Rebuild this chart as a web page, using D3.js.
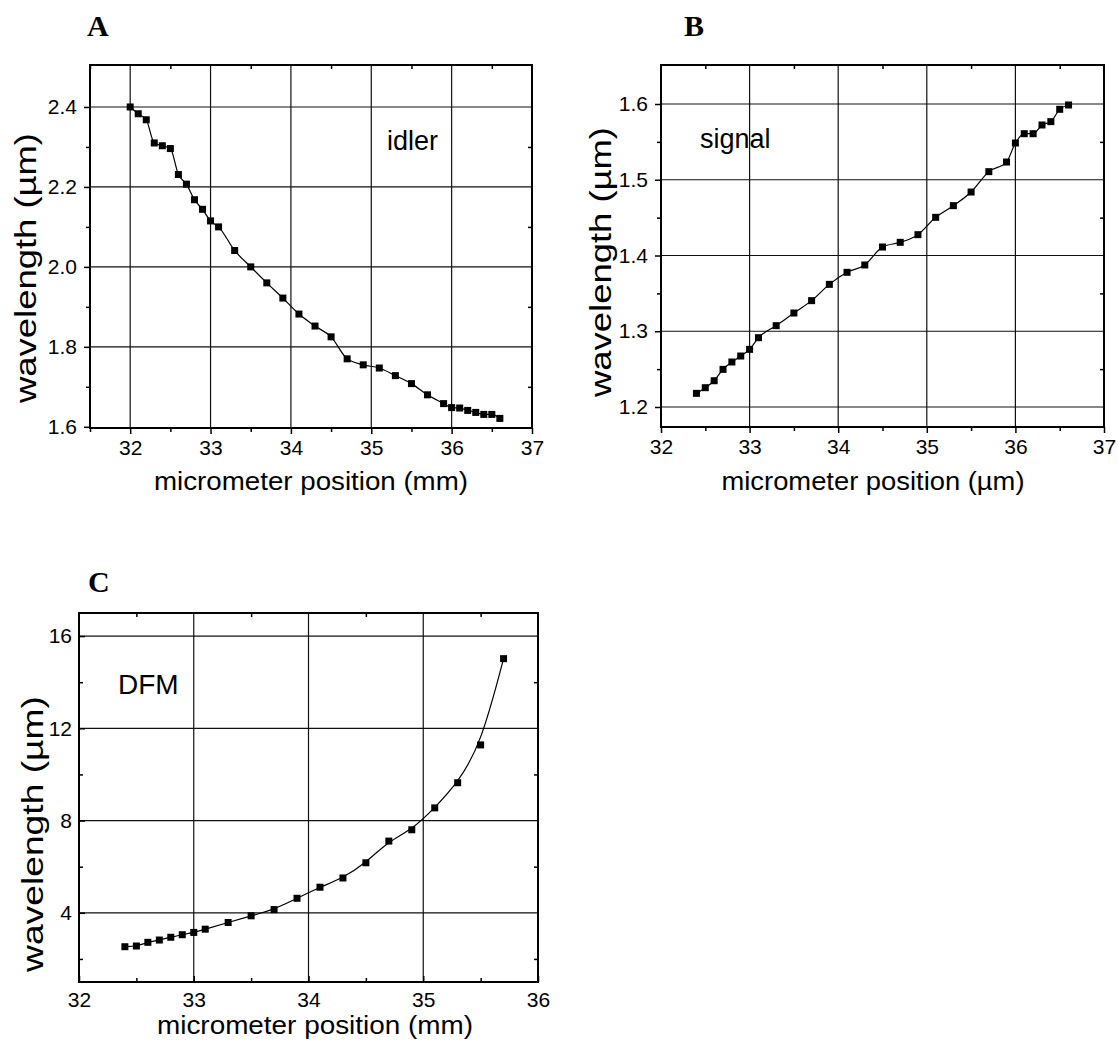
<!DOCTYPE html>
<html><head><meta charset="utf-8">
<script src="https://cdn.jsdelivr.net/npm/d3@7"></script>
<style>body{margin:0;background:#fff}svg{display:block}text{font-family:"Liberation Sans",Arial,sans-serif;fill:#000}</style>
</head><body>
<script>
// ---- data ----
const idlerX = [32.0,32.1,32.2,32.3,32.4,32.5,32.6,32.7,32.8,32.9,33.0,33.1,33.3,33.5,33.7,33.9,34.1,34.3,34.5,34.7,34.9,35.1,35.3,35.5,35.7,35.9,36.0,36.1,36.2,36.3,36.4,36.5,36.6];
const idlerY = [2.400,2.383,2.368,2.310,2.303,2.296,2.231,2.207,2.168,2.144,2.115,2.100,2.041,2.000,1.960,1.922,1.882,1.852,1.825,1.770,1.755,1.747,1.728,1.708,1.680,1.658,1.648,1.647,1.641,1.636,1.631,1.631,1.621];
const signalX = [32.4,32.5,32.6,32.7,32.8,32.9,33.0,33.1,33.3,33.5,33.7,33.9,34.1,34.3,34.5,34.7,34.9,35.1,35.3,35.5,35.7,35.9,36.0,36.1,36.2,36.3,36.4,36.5,36.6];
const signalY = [1.218,1.2255,1.2347,1.2497,1.2594,1.2673,1.2761,1.2915,1.3074,1.3241,1.3404,1.3619,1.3778,1.3875,1.4112,1.4174,1.4275,1.4504,1.4658,1.4838,1.5107,1.5234,1.5485,1.5608,1.5608,1.5723,1.5767,1.593,1.5987];
const dfmX = [32.4,32.5,32.6,32.7,32.8,32.9,33.0,33.1,33.3,33.5,33.7,33.9,34.1,34.3,34.5,34.7,34.9,35.1,35.3,35.5,35.7];
const dfmY = [2.53,2.56,2.72,2.82,2.94,3.05,3.15,3.29,3.58,3.87,4.14,4.63,5.11,5.51,6.17,7.11,7.60,8.55,9.64,11.28,15.02];

const aXTicks = [32,33,34,35,36,37], aXMinor = [31.5,32.5,33.5,34.5,35.5,36.5];
const aYTicks = [1.6,1.8,2.0,2.2,2.4], aYMinor = [1.7,1.9,2.1,2.3];
const bXTicks = [32,33,34,35,36,37], bXMinor = [32.5,33.5,34.5,35.5,36.5];
const bYTicks = [1.2,1.3,1.4,1.5,1.6], bYMinor = [1.25,1.35,1.45,1.55];
const cXTicks = [32,33,34,35,36], cXMinor = [32.5,33.5,34.5,35.5];
const cYTicks = [4,8,12,16], cYMinor = [2,6,10,14];

const panelLetters = ["A","B","C"];
const seriesLabels = ["idler","signal","DFM"];
const xTitles = ["micrometer position (mm)","micrometer position (\u00b5m)","micrometer position (mm)"];
const yTitle = "wavelength (\u00b5m)";

const svg = d3.select("body").append("svg").attr("width",1118).attr("height",1052);

function panel(o){
  const x = d3.scaleLinear().domain(o.xd).range([o.l,o.r]);
  const y = d3.scaleLinear().domain(o.yd).range([o.b,o.t]);
  const g = svg.append("g");
  g.append("g").selectAll("line").data(o.xt.filter(v=>x(v)>o.l+2&&x(v)<o.r-2)).join("line")
    .attr("x1",d=>x(d)).attr("x2",d=>x(d)).attr("y1",o.t).attr("y2",o.b).attr("stroke","#111").attr("stroke-width",1.2);
  g.append("g").selectAll("line").data(o.yt.filter(v=>y(v)>o.t+2&&y(v)<o.b-2)).join("line")
    .attr("y1",d=>y(d)).attr("y2",d=>y(d)).attr("x1",o.l).attr("x2",o.r).attr("stroke","#111").attr("stroke-width",1.2);
  const s = o.inward ? -1 : 1;
  const bx = g.append("g").attr("transform",`translate(0,${o.b})`)
    .call(d3.axisBottom(x).tickValues(o.xt).tickFormat(d3.format("d")).tickSizeInner(6*s).tickSizeOuter(0).tickPadding(o.inward?10:6));
  const bxm = g.append("g").attr("transform",`translate(0,${o.b})`)
    .call(d3.axisBottom(x).tickValues(o.xm).tickFormat("").tickSizeInner(4*s).tickSizeOuter(0));
  const ly = g.append("g").attr("transform",`translate(${o.l},0)`)
    .call(d3.axisLeft(y).tickValues(o.yt).tickFormat(o.yfmt).tickSizeInner(6*s).tickSizeOuter(0).tickPadding(7));
  const lym = g.append("g").attr("transform",`translate(${o.l},0)`)
    .call(d3.axisLeft(y).tickValues(o.ym).tickFormat("").tickSizeInner(4*s).tickSizeOuter(0));
  const tx = g.append("g").attr("transform",`translate(0,${o.t})`)
    .call(d3.axisTop(x).tickValues(o.xm).tickFormat("").tickSizeInner(-4).tickSizeOuter(0));
  const ry = g.append("g").attr("transform",`translate(${o.r},0)`)
    .call(d3.axisRight(y).tickValues(o.ym).tickFormat("").tickSizeInner(-4).tickSizeOuter(0));
  [bx,bxm,ly,lym,tx,ry].forEach(a=>{
    a.select(".domain").remove();
    a.selectAll(".tick line").attr("stroke","#000").attr("stroke-width",1.5);
    a.selectAll("text").attr("font-size",21).attr("font-family","Liberation Sans, Arial, sans-serif").attr("fill","#000");
  });
  g.append("rect").attr("x",o.l).attr("y",o.t).attr("width",o.r-o.l).attr("height",o.b-o.t)
    .attr("fill","none").attr("stroke","#000").attr("stroke-width",2);
  const pts = o.xs.map((v,i)=>[v,o.ys[i]]);
  g.append("path").datum(pts).attr("fill","none").attr("stroke","#000").attr("stroke-width",1.2)
    .attr("d",d3.line().x(d=>x(d[0])).y(d=>y(d[1])).curve(o.curve));
  const m = 7;
  g.append("g").selectAll("rect").data(pts).join("rect")
    .attr("x",d=>x(d[0])-m/2).attr("y",d=>y(d[1])-m/2).attr("width",m).attr("height",m).attr("fill","#000");
  g.append("text").attr("x",o.lab[0]).attr("y",o.lab[1]).attr("font-size",o.lab[2]).text(o.label);
  g.append("text").attr("x",o.letter[0]).attr("y",o.letter[1]).attr("font-size",30).attr("font-weight","bold")
    .style("font-family","'Liberation Serif','Times New Roman',serif").text(o.letterText);
  g.append("text").attr("x",o.xtitle[0]).attr("y",o.xtitle[1]).attr("text-anchor","middle").attr("font-size",25)
    .attr("textLength",o.xtitle[2]).attr("lengthAdjust","spacingAndGlyphs").text(o.xTitle);
  g.append("text").attr("transform",`translate(${o.ytitle[0]},${o.ytitle[1]}) rotate(-90)`).attr("text-anchor","middle")
    .attr("font-size",30).attr("textLength",o.ytitle[2]).attr("lengthAdjust","spacingAndGlyphs").text(yTitle);
}

panel({l:90,r:532,t:65,b:428,xd:[31.5,37],yd:[1.597,2.505],xt:aXTicks,xm:aXMinor,yt:aYTicks,ym:aYMinor,
  yfmt:d3.format(".1f"),xs:idlerX,ys:idlerY,curve:d3.curveMonotoneX,inward:false,
  label:seriesLabels[0],lab:[387,150,27],letter:[87,36],letterText:panelLetters[0],
  xTitle:xTitles[0],xtitle:[311,490,314],ytitle:[36,268,270]});
panel({l:661,r:1104,t:65,b:427,xd:[32,37],yd:[1.1736,1.6515],xt:bXTicks,xm:bXMinor,yt:bYTicks,ym:bYMinor,
  yfmt:d3.format(".1f"),xs:signalX,ys:signalY,curve:d3.curveMonotoneX,inward:false,
  label:seriesLabels[1],lab:[700,148,27],letter:[684,36],letterText:panelLetters[1],
  xTitle:xTitles[1],xtitle:[873,490,303],ytitle:[611,262,270]});
panel({l:79,r:538,t:613,b:982,xd:[32,36],yd:[1,17],xt:cXTicks,xm:cXMinor,yt:cYTicks,ym:cYMinor,
  yfmt:d3.format("d"),xs:dfmX,ys:dfmY,curve:d3.curveBasis,inward:true,
  label:seriesLabels[2],lab:[118,694,28],letter:[88,592],letterText:panelLetters[2],
  xTitle:xTitles[2],xtitle:[315,1034,316],ytitle:[43,834,276]});
</script>
</body></html>
